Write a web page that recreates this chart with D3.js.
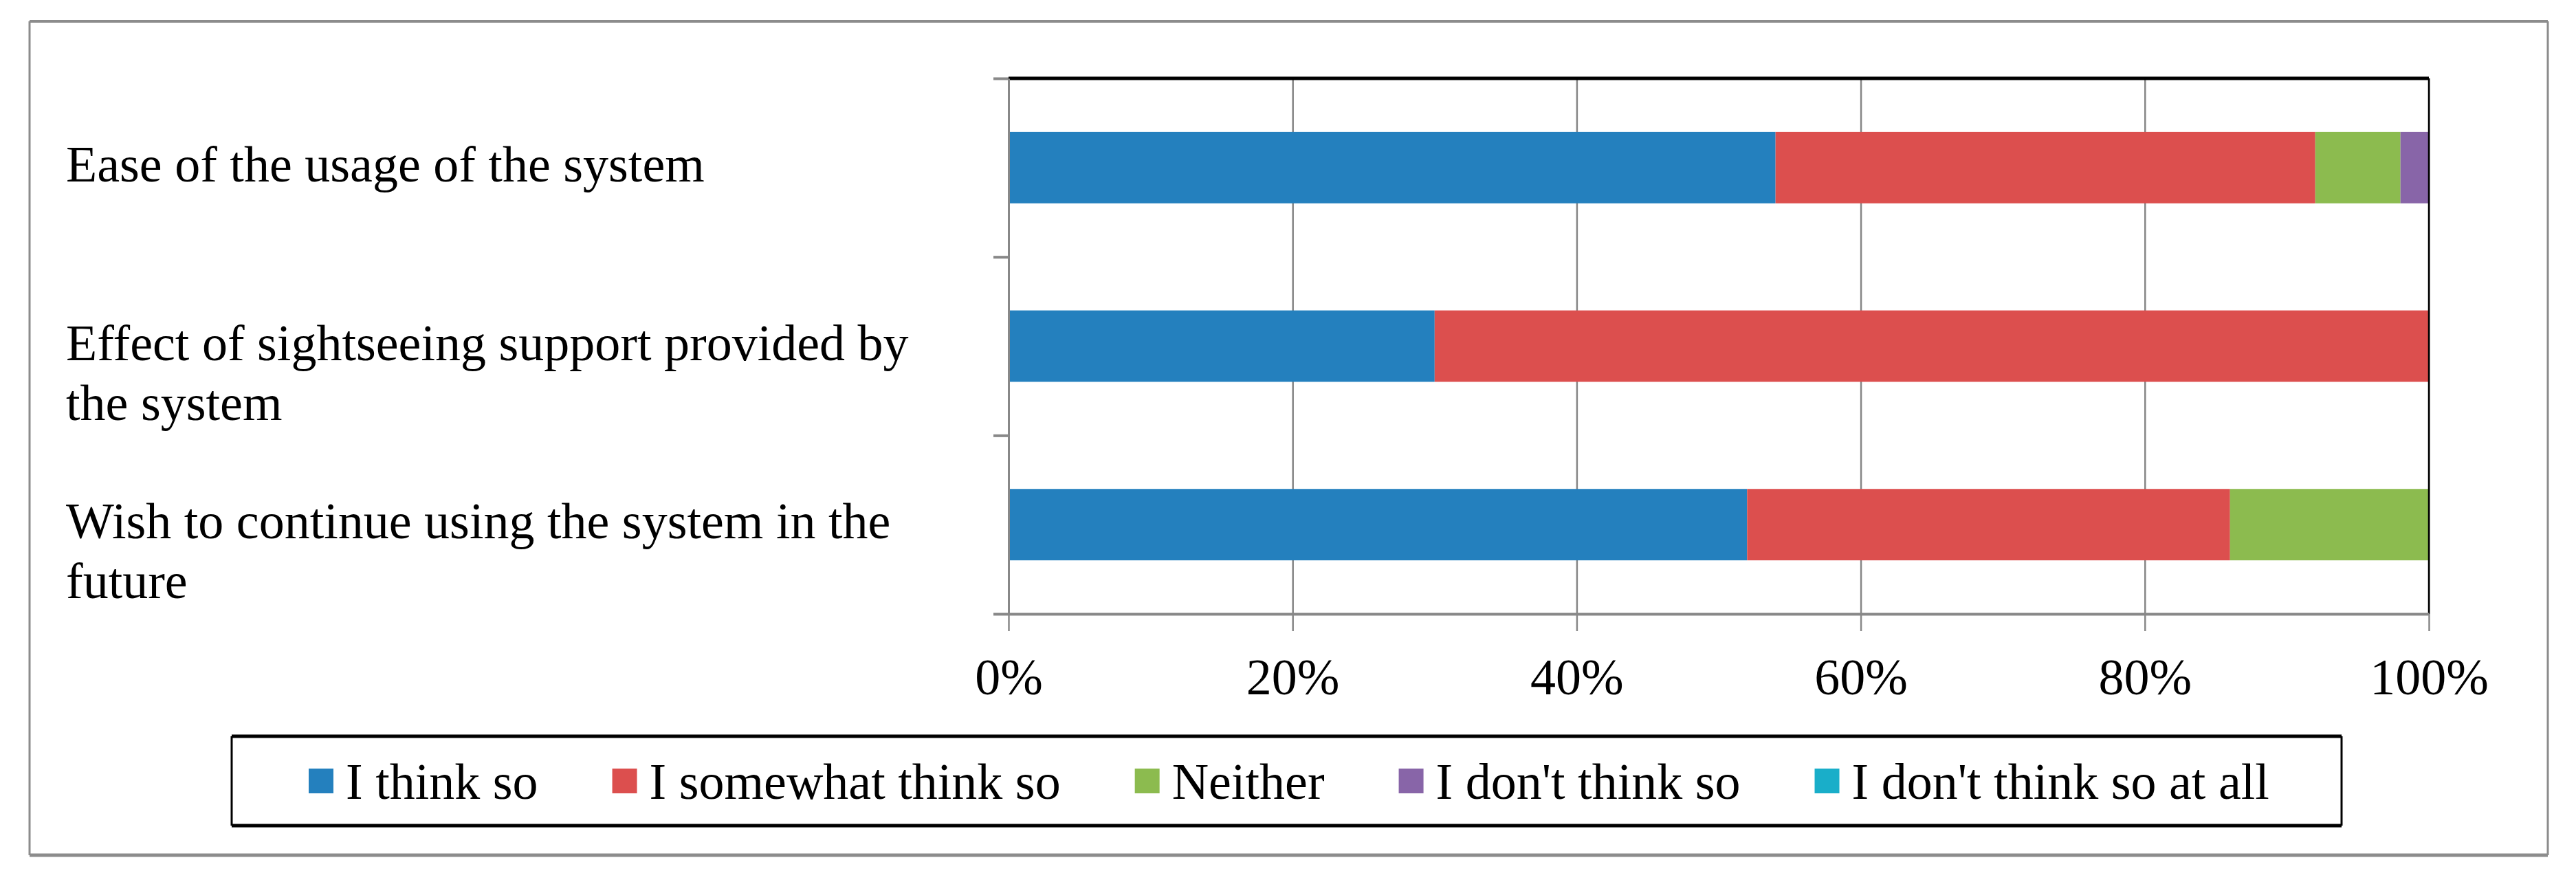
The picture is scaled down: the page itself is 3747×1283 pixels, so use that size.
<!DOCTYPE html>
<html>
<head>
<meta charset="utf-8">
<script src="https://cdn.jsdelivr.net/npm/d3@7"></script>
<style>
  body { margin: 0; background: #fff; }
  text { font-family: "Liberation Serif", "Times New Roman", serif; fill: #000; }
</style>
</head>
<body>
<svg id="chart" width="3747" height="1283"></svg>
<script>
// chart data (percent of answers)
var categories = [
  "Ease of the usage of the system",
  "Effect of sightseeing support provided by the system",
  "Wish to continue using the system in the future"
];
var seriesNames = ["I think so", "I somewhat think so", "Neither", "I don't think so", "I don't think so at all"];
var thinkSo = [54, 30, 52];
var somewhatThinkSo = [38, 70, 34];
var neither = [6, 0, 14];
var dontThinkSo = [2, 0, 0];
var dontThinkSoAtAll = [0, 0, 0];
var xTicks = [0, 20, 40, 60, 80, 100];
var colors = ["#2480be", "#dc4f4e", "#8cbb4f", "#8865a8", "#19aec9"];

var allSeries = [thinkSo, somewhatThinkSo, neither, dontThinkSo, dontThinkSoAtAll];

// build rows for d3.stack
var rows = categories.map(function(c, i) {
  var r = { cat: c };
  seriesNames.forEach(function(s, j) { r[s] = allSeries[j][i]; });
  return r;
});

var svg = d3.select("#chart");
svg.append("rect").attr("width", 3747).attr("height", 1283).attr("fill", "#fff");

// outer frame (horizontal edges a bit heavier, like the picture)
var frame = svg.append("g").attr("stroke", "#8c8c8c");
frame.append("line").attr("x1", 43).attr("x2", 3706).attr("y1", 31).attr("y2", 31).attr("stroke-width", 4);
frame.append("line").attr("x1", 43).attr("x2", 3706).attr("y1", 1244).attr("y2", 1244).attr("stroke-width", 5);
frame.append("line").attr("x1", 43).attr("x2", 43).attr("y1", 31).attr("y2", 1244).attr("stroke-width", 3);
frame.append("line").attr("x1", 3706).attr("x2", 3706).attr("y1", 31).attr("y2", 1244).attr("stroke-width", 3);

// plot area edges ("top" is taken by window.top, so other names)
var plotLeft = 1467, plotRight = 3533, plotTop = 114, plotBottom = 893;

var x = d3.scaleLinear().domain([0, 100]).range([plotLeft, plotRight]);
var y = d3.scaleBand().domain(categories).range([plotTop, plotBottom])
  .paddingInner(0.6).paddingOuter(0.3);
var yEdge = d3.scaleLinear().domain([0, categories.length]).range([plotTop, plotBottom]);

// gridlines
svg.append("g")
  .attr("transform", "translate(0," + plotBottom + ")")
  .call(d3.axisBottom(x).tickValues(xTicks).tickSize(-(plotBottom - plotTop)).tickFormat(""))
  .call(function(g) {
    g.select(".domain").remove();
    g.selectAll("line").attr("stroke", "#868686").attr("stroke-width", 2.5);
  });

// stacked bars
var stack = d3.stack().keys(seriesNames);
var layers = stack(rows);

svg.append("g").selectAll("g")
  .data(layers)
  .join("g")
  .attr("fill", function(d, i) { return colors[i]; })
  .selectAll("rect")
  .data(function(d) { return d; })
  .join("rect")
  .attr("x", function(d) { return x(d[0]); })
  .attr("width", function(d) { return x(d[1]) - x(d[0]); })
  .attr("y", function(d) { return y(d.data.cat); })
  .attr("height", y.bandwidth());

// plot area border: black top and right
svg.append("line").attr("x1", plotLeft).attr("x2", plotRight).attr("y1", plotTop).attr("y2", plotTop)
  .attr("stroke", "#000").attr("stroke-width", 5);
svg.append("line").attr("x1", plotRight).attr("x2", plotRight).attr("y1", plotTop).attr("y2", plotBottom)
  .attr("stroke", "#000").attr("stroke-width", 2.5);

// y axis with ticks between categories
svg.append("g")
  .attr("transform", "translate(" + plotLeft + ",0)")
  .call(d3.axisLeft(yEdge).tickValues(d3.range(categories.length + 1)).tickSize(22).tickSizeOuter(0).tickFormat(""))
  .call(function(g) {
    g.select(".domain").attr("stroke", "#888").attr("stroke-width", 3);
    g.selectAll("line").attr("stroke", "#888").attr("stroke-width", 4);
  });

// x axis
svg.append("g")
  .attr("transform", "translate(0," + plotBottom + ")")
  .call(d3.axisBottom(x).tickValues(xTicks).tickSize(25).tickSizeOuter(0)
    .tickFormat(function(d) { return d + "%"; }))
  .call(function(g) {
    g.select(".domain").attr("stroke", "#888").attr("stroke-width", 4);
    g.selectAll("line").attr("stroke", "#888").attr("stroke-width", 2.5);
    g.selectAll("text")
      .attr("y", 117).attr("dy", null)
      .style("font-size", "74px")
      .style("font-family", "'Liberation Serif', 'Times New Roman', serif")
      .attr("fill", "#000");
  });

// category labels, wrapped like the picture
var labelG = svg.append("g");
categories.forEach(function(c) {
  var t = labelG.append("text")
    .attr("x", 96)
    .attr("y", y(c) + y.bandwidth() / 2 + 20)
    .style("font-size", "74px");
  var words = c.split(" ");
  var line = [];
  var span = t.append("tspan").attr("x", 96).attr("dy", 0);
  words.forEach(function(w) {
    line.push(w);
    span.text(line.join(" "));
    if (span.node().getComputedTextLength() > 1300 && line.length > 1) {
      line.pop();
      span.text(line.join(" "));
      line = [w];
      span = t.append("tspan").attr("x", 96).attr("dy", 87).text(w);
    }
  });
});

// legend
var legend = svg.append("g");
legend.append("rect").attr("x", 337).attr("y", 1071).attr("width", 3406 - 337).attr("height", 1201 - 1071)
  .attr("fill", "#fff").attr("stroke", "none");
legend.append("line").attr("x1", 337).attr("x2", 3406).attr("y1", 1071).attr("y2", 1071).attr("stroke", "#000").attr("stroke-width", 5);
legend.append("line").attr("x1", 337).attr("x2", 3406).attr("y1", 1201).attr("y2", 1201).attr("stroke", "#000").attr("stroke-width", 5);
legend.append("line").attr("x1", 337).attr("x2", 337).attr("y1", 1071).attr("y2", 1201).attr("stroke", "#000").attr("stroke-width", 3);
legend.append("line").attr("x1", 3406).attr("x2", 3406).attr("y1", 1071).attr("y2", 1201).attr("stroke", "#000").attr("stroke-width", 3);

var lx = 449;
seriesNames.forEach(function(s, i) {
  legend.append("rect")
    .attr("x", lx).attr("y", 1118).attr("width", 36).attr("height", 36)
    .attr("fill", colors[i]);
  var txt = legend.append("text")
    .attr("x", lx + 54).attr("y", 1162)
    .style("font-size", "74px")
    .text(s);
  lx = lx + 54 + txt.node().getComputedTextLength() + 108;
});
</script>
</body>
</html>
